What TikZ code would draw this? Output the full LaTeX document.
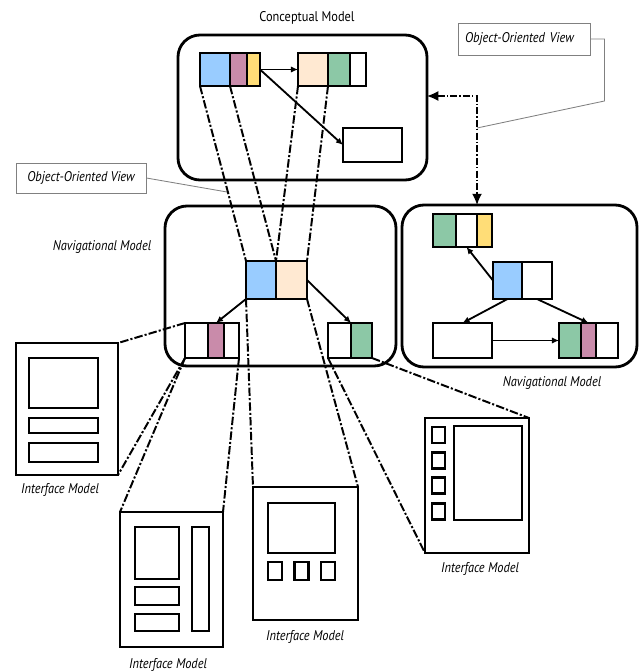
\documentclass[tikz,border=0pt]{standalone}
\usepackage{fontspec}
\setmainfont{PT Sans}[FakeStretch=0.88]
\usetikzlibrary{arrows.meta}

\definecolor{azul}{HTML}{99CCFF}
\definecolor{malva}{HTML}{C98BAA}
\definecolor{amarillo}{HTML}{FFDD77}
\definecolor{durazno}{HTML}{FFE9D2}
\definecolor{verde}{HTML}{8CC8A6}

\tikzset{tam/.style 2 args={minimum width=#1*0.025cm, minimum height=#2*0.025cm}}

\begin{document}
\begin{tikzpicture}[x=0.025cm, y=-0.025cm,
    modelo/.style={rectangle, draw=black, line width=2pt, rounded corners=0.55cm, inner sep=0pt, outer sep=0pt},
    clase/.style={rectangle, draw=black, line width=1.3pt, inner sep=0pt, outer sep=0pt},
    pantalla/.style={rectangle, draw=black, line width=1.8pt, inner sep=0pt, outer sep=0pt},
    widget/.style={rectangle, draw=black, line width=1.5pt, inner sep=0pt, outer sep=0pt},
    nota/.style={rectangle, draw=gray, line width=0.6pt, inner sep=3pt, font=\itshape},
    titulo/.style={font=\itshape, inner sep=1pt},
    flujo/.style={-{Latex[length=5pt,width=4.5pt]}, line width=1.3pt},
    enlace/.style={line width=1.4pt, dash pattern=on 6pt off 1.5pt on 1.5pt off 1.5pt},
    vista/.style={{Latex[length=8pt,width=7pt]}-{Latex[length=8pt,width=7pt]}, line width=0.9pt, dash pattern=on 5pt off 1.5pt on 1pt off 1.5pt},
    guia/.style={draw=gray, line width=0.6pt},
]
\useasboundingbox (0,0) rectangle (640,671);

% conceptual model
\node (cm) [modelo, tam={249}{145}] at (302.5,107.5) {};
\node (tcm) at (307,18) {Conceptual Model};
\node (ca) [clase, fill=azul, tam={30}{33}] at (215,69.5) {};
\node (cb) [clase, fill=malva, tam={17}{33}] at (238.5,69.5) {};
\node (cc) [clase, fill=amarillo, tam={13}{33}] at (253.5,69.5) {};
\node (cd) [clase, fill=durazno, tam={30}{33}] at (313,69.5) {};
\node (ce) [clase, fill=verde, tam={22}{33}] at (339,69.5) {};
\node (cf) [clase, fill=white, tam={16}{33}] at (358,69.5) {};
\node (cg) [clase, fill=white, tam={59}{34}] at (372.5,145) {};
\draw [flujo] (cc.east) -- (cd.west);
\draw [flujo] (cc.east) -- (cg.west);

% navigational model (left)
\node (nm) [modelo, tam={231}{160}] at (280.5,286) {};
\node (tnm) [titulo] at (102,247) {Navigational Model};
\node (na) [clase, fill=azul, tam={30}{38}] at (261,280) {};
\node (nb) [clase, fill=durazno, tam={31}{38}] at (291.5,280) {};
\node (nc) [clase, fill=white, tam={23}{35}] at (196.5,340.5) {};
\node (nd) [clase, fill=malva, tam={16}{35}] at (216,340.5) {};
\node (ne) [clase, fill=white, tam={15}{35}] at (231.5,340.5) {};
\node (nf) [clase, fill=white, tam={23}{35}] at (339.5,340.5) {};
\node (ng) [clase, fill=verde, tam={21}{35}] at (361.5,340.5) {};
\draw [flujo] (na.south west) -- (nd.north);
\draw [flujo] (nb.east) -- (nf.north east);

% navigational model (right)
\node (rn) [modelo, tam={235}{162}] at (519.5,286) {};
\node (trn) [titulo] at (552,383) {Navigational Model};
\node (ra) [clase, fill=verde, tam={23}{33}] at (444.5,230.5) {};
\node (rb) [clase, fill=white, tam={21}{33}] at (466.5,230.5) {};
\node (rc) [clase, fill=amarillo, tam={15}{33}] at (484.5,230.5) {};
\node (rd) [clase, fill=azul, tam={29}{37}] at (507.5,280.5) {};
\node (re) [clase, fill=white, tam={30}{37}] at (537,280.5) {};
\node (rf) [clase, fill=white, tam={59}{35}] at (462.5,340.5) {};
\node (rg) [clase, fill=verde, tam={22}{35}] at (570,340.5) {};
\node (rh) [clase, fill=malva, tam={15}{35}] at (588.5,340.5) {};
\node (ri) [clase, fill=white, tam={22}{35}] at (607,340.5) {};
\draw [flujo] (rd.west) -- (rb.south);
\draw [flujo] (rd.south) -- (rf.north);
\draw [flujo] (re.south) -- (rh.north);
\draw [flujo] (rf.east) -- (rg.west);

% object-oriented views
\coordinate (codo) at (477,96);
\draw [vista] (cm.east |- codo) -- (codo) -- (codo |- rn.north);
\node (ov1) [nota, tam={130}{30}] at (81,178) {Object-Oriented View};
\node (ov2) [nota, tam={132}{32}, text width=118*0.025cm, align=left] at (524,39) {Object-Oriented View};
\coordinate (p1) at (227,192);
\coordinate (p2) at (477,128);
\draw [guia] (ov1.east) -- (p1);
\draw [guia] (ov2.east) -- ++(14,0) -- ++(0,62) -- (p2);

\draw [enlace] (ca.south west) -- (na.north west);
\draw [enlace] (cb.south west) -- (na.north east);
\draw [enlace] (cd.south west) -- (nb.north west);
\draw [enlace] (ce.south west) -- (nb.north east);

% interface models
\node (im1) [pantalla, tam={102}{132}] at (67,409) {};
\node (i1a) [widget, tam={69}{50}] at (63.5,383) {};
\node (i1b) [widget, tam={69}{15}] at (63.5,425.5) {};
\node (i1c) [widget, tam={69}{19}] at (63.5,452.5) {};
\node (tim1) [titulo] at (60,490) {Interface Model};

\node (im2) [pantalla, tam={103}{135}] at (171.5,579.5) {};
\node (i2a) [widget, tam={44}{52}] at (157,553) {};
\node (i2b) [widget, tam={44}{18}] at (157,596) {};
\node (i2c) [widget, tam={44}{17}] at (157,622.5) {};
\node (i2d) [widget, tam={17}{104}] at (200.5,579) {};
\node (tim2) [titulo] at (168,665) {Interface Model};

\node (im3) [pantalla, tam={105}{133}] at (305.5,553.5) {};
\node (i3a) [widget, tam={67}{50}] at (301.5,528) {};
\foreach \x [count=\i] in {275,301.5,328}
    \node (i3b\i) [widget, tam={14}{18}] at (\x,571) {};
\node (tim3) [titulo] at (305,637) {Interface Model};

\node (im4) [pantalla, tam={104}{135}] at (477,485.5) {};
\node (i4a) [widget, tam={68}{94}] at (488,473) {};
\foreach \y [count=\i] in {435,460.5,485.5,511.5}
    \node (i4b\i) [widget, tam={13}{16}] at (438.5,\y) {};
\node (tim4) [titulo] at (480,569) {Interface Model};

\draw [enlace] (nc.north west) -- (im1.north east);
\draw [enlace] (nc.south west) -- (im1.south east);
\draw [enlace] (nc.south west) -- (im2.north west);
\draw [enlace] (ne.south east) -- (im2.north east);
\draw [enlace] (na.south west) -- (im3.north west);
\draw [enlace] (nb.south east) -- (im3.north east);
\draw [enlace] (nf.south west) -- (im4.south west);
\draw [enlace] (ng.south east) -- (im4.north east);

\end{tikzpicture}
\end{document}
